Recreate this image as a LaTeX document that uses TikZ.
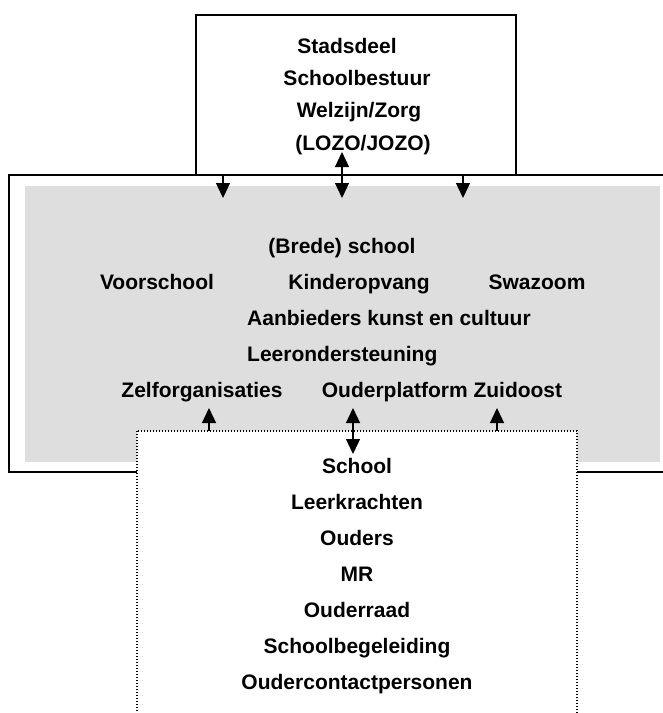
\documentclass[tikz,border=0pt]{standalone}
\usepackage{fontspec}
\setmainfont{Liberation Sans}
\usetikzlibrary{arrows.meta}
\definecolor{lichtgrijs}{RGB}{222,222,222}
\tikzset{
  tekst/.style={font=\fontsize{21}{25}\selectfont\bfseries, inner sep=0pt, anchor=base},
  pijl/.style={line width=1.3pt, -{Triangle[width=14pt,length=15pt]}},
  dubbelpijl/.style={line width=1.3pt, {Triangle[width=14pt,length=15pt]}-{Triangle[width=14pt,length=15pt]}},
}

\begin{document}
\begin{tikzpicture}[x=1pt, y=-1pt, line join=miter]
\useasboundingbox (0,0) rectangle (663,713);
\clip (0,0) rectangle (663,713);
\coordinate [] (TL) at (196,15);
\coordinate [] (TR) at (516,175);
\coordinate [] (OL) at (9,175);
\coordinate [] (OR) at (680,472);
\coordinate [] (GL) at (25,186);
\coordinate [] (GR) at (660,462);
\coordinate [] (DL) at (137,431);
\coordinate [] (DR) at (577,730);

% kaders
\draw[line width=1.5pt, fill=white] (TL) rectangle (TR);
\draw[line width=2pt, fill=white] (OL) rectangle (OR);
\fill[lichtgrijs] (GL) rectangle (GR);
\draw[line width=1.2pt, dash pattern=on 1.2pt off 1.8pt, fill=white] (DL) rectangle (DR);

% bovenste kader
\node[tekst] (stadsdeel) at (347,53) {Stadsdeel};
\node[tekst] (bestuur) at (357,85) {Schoolbestuur};
\node[tekst] (welzijn) at (359,117) {Welzijn/Zorg};
\node[tekst] (lozo) at (363,150) {(LOZO/JOZO)};

% grijze vlak
\node[tekst] (brede) at (342,253) {(Brede) school};
\node[tekst] (voorschool) at (157,289) {Voorschool};
\node[tekst] (kinder) at (359,289) {Kinderopvang};
\node[tekst] (swazoom) at (537,289) {Swazoom};
\node[tekst, anchor=base west] (kunst) at (247,325) {Aanbieders kunst en cultuur};
\node[tekst, anchor=base west] (leer) at (247,361) {Leerondersteuning};
\node[tekst] (zelf) at (202,397) {Zelforganisaties};
\node[tekst] (platform) at (442,397) {Ouderplatform Zuidoost};

% onderste kader
\foreach \t [count=\i] in {School,Leerkrachten,Ouders,MR,Ouderraad,Schoolbegeleiding,Oudercontactpersonen}
    \node[tekst] (s\i) at (357,437+36*\i) {\t};

% pijlen
\coordinate [] (pa) at (223,198);
\coordinate [] (pb) at (342,198);
\coordinate [] (pc) at (463,198);
\coordinate [] (qb) at (342,152);
\foreach \i in {pa,pc}
    \draw[pijl] (\i |- TR)--(\i);
\draw[dubbelpijl] (qb)--(pb);

\coordinate [] (ra) at (209,408);
\coordinate [] (rb) at (353,408);
\coordinate [] (rc) at (497,408);
\coordinate [] (sb) at (353,454);
\foreach \i in {ra,rc}
    \draw[pijl] (\i |- DL)--(\i);
\draw[dubbelpijl] (rb)--(sb);
\end{tikzpicture}
\end{document}
